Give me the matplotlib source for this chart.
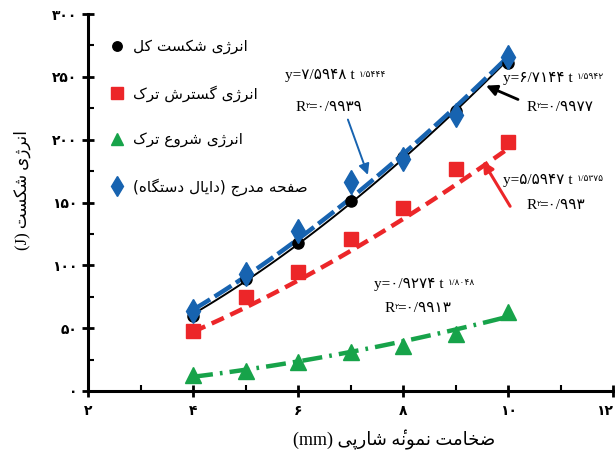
#!/usr/bin/env python3

import numpy as np
import matplotlib
matplotlib.use("Agg")
import matplotlib.pyplot as plt
from matplotlib.lines import Line2D
from matplotlib.ticker import MultipleLocator, FuncFormatter

# Charpy test results: absorbed energy (J) vs specimen thickness (mm)
thickness = [4, 5, 6, 7, 8, 9, 10]
total_energy = [59.5, 89, 118, 151, 186, 223, 261]
propagation_energy = [47.6, 75, 95, 120.6, 146, 177, 198]
initiation_energy = [13, 16, 23, 31, 36, 45, 63]
dial_energy = [63.5, 93, 127, 166, 185, 220, 266]

series_names = [
    "انرژی شکست کل",
    "انرژی گسترش ترک",
    "انرژی شروع ترک",
    "صفحه مدرج (دایال دستگاه)",
]

# power-law trend lines y = a * t^b
fit_coef = [6.7144, 5.5947, 0.9274, 7.5948]
fit_exp = [1.5942, 1.5375, 1.8048, 1.5444]
fit_r2 = [0.9977, 0.993, 0.9913, 0.9939]

x_ticks = [2, 4, 6, 8, 10, 12]
y_ticks = [0, 50, 100, 150, 200, 250, 300]

COLORS = ["black", "#ec2629", "#17a34a", "#1763b0"]
MARKERS = ["o", "s", "^", "d"]
MARKER_SIZES = [8, 10, 11, 12]
LINE_STYLES = ["-", (0, (3.0, 1.6)), (0, (4.5, 1.6, 0.6, 1.6)), (0, (4.5, 1.2))]
LINE_WIDTHS = [1.4, 3.2, 3.2, 3.2]

# text positions in data coords: equation line, R^2 line
EQ_POS = [(9.9, 246), (9.9, 165), (7.45, 82), (5.75, 248)]
R2_POS = [(10.35, 223), (10.35, 145), (7.65, 63), (5.95, 223)]
ARROWS = [
    ((10.19, 232), (9.58, 243)),
    ((10.04, 147), (9.52, 183)),
    None,
    ((6.95, 216), (7.33, 172)),
]
ARROW_WIDTHS = [2.0, 2.2, 0, 1.4]

FA_FAMILY = ["DejaVu Sans"]
NUM_FAMILY = ["Liberation Serif", "DejaVu Sans"]

_FORMS = {
    "ا": ("\uFE8D", "\uFE8E"),
    "د": ("\uFEA9", "\uFEAA"),
    "ر": ("\uFEAD", "\uFEAE"),
    "ژ": ("\uFB8A", "\uFB8B"),
    "و": ("\uFEED", "\uFEEE"),
    "ۀ": ("\uFEE9\u0654", "\uFEEA\u0654"),
    "ت": ("\uFE95", "\uFE96", "\uFE97", "\uFE98"),
    "پ": ("\uFB56", "\uFB57", "\uFB58", "\uFB59"),
    "ج": ("\uFE9D", "\uFE9E", "\uFE9F", "\uFEA0"),
    "ح": ("\uFEA1", "\uFEA2", "\uFEA3", "\uFEA4"),
    "خ": ("\uFEA5", "\uFEA6", "\uFEA7", "\uFEA8"),
    "س": ("\uFEB1", "\uFEB2", "\uFEB3", "\uFEB4"),
    "ش": ("\uFEB5", "\uFEB6", "\uFEB7", "\uFEB8"),
    "ص": ("\uFEB9", "\uFEBA", "\uFEBB", "\uFEBC"),
    "ض": ("\uFEBD", "\uFEBE", "\uFEBF", "\uFEC0"),
    "ع": ("\uFEC9", "\uFECA", "\uFECB", "\uFECC"),
    "ف": ("\uFED1", "\uFED2", "\uFED3", "\uFED4"),
    "ک": ("\uFB8E", "\uFB8F", "\uFB90", "\uFB91"),
    "گ": ("\uFB92", "\uFB93", "\uFB94", "\uFB95"),
    "ل": ("\uFEDD", "\uFEDE", "\uFEDF", "\uFEE0"),
    "م": ("\uFEE1", "\uFEE2", "\uFEE3", "\uFEE4"),
    "ن": ("\uFEE5", "\uFEE6", "\uFEE7", "\uFEE8"),
    "ه": ("\uFEE9", "\uFEEA", "\uFEEB", "\uFEEC"),
    "ی": ("\uFBFC", "\uFBFD", "\uFBFE", "\uFBFF"),
}


def _fa(text):
    # matplotlib does no Arabic shaping, so pick presentation forms by hand
    # and lay the string out right-to-left
    out = []
    for i, ch in enumerate(text):
        forms = _FORMS.get(ch)
        if forms is None:
            out.append(ch)
            continue
        prev = text[i - 1] if i > 0 else ""
        nxt = text[i + 1] if i + 1 < len(text) else ""
        joins_prev = prev in _FORMS and len(_FORMS[prev]) == 4
        joins_next = len(forms) == 4 and nxt in _FORMS
        if joins_prev and joins_next:
            out.append(forms[3])
        elif joins_prev:
            out.append(forms[1])
        elif joins_next:
            out.append(forms[2])
        else:
            out.append(forms[0])
    return "".join(reversed(out)).translate(str.maketrans("()", ")("))


def _fa_num(value):
    s = str(value)
    return s.translate(str.maketrans("0123456789.", "۰۱۲۳۴۵۶۷۸۹/"))


def _equation(ax, pos, r2_pos, a, b, r2, fontsize=11):
    base = ax.text(pos[0], pos[1], "y=" + _fa_num(a) + " t",
                   family=NUM_FAMILY, fontsize=fontsize, va="baseline")
    ax.annotate(_fa_num(b), xy=(1, 1), xycoords=base, xytext=(3, -1),
                textcoords="offset points", family=NUM_FAMILY,
                fontsize=fontsize * 0.6, va="top", ha="left")
    r = ax.text(r2_pos[0], r2_pos[1], "R",
                family=NUM_FAMILY, fontsize=fontsize, va="baseline")
    ax.annotate("۲", xy=(1, 1), xycoords=r, xytext=(0, -1),
                textcoords="offset points", family=NUM_FAMILY,
                fontsize=fontsize * 0.5, va="top", ha="left")
    ax.annotate("=" + _fa_num(r2), xy=(1, 0), xycoords=r, xytext=(2, 0),
                textcoords="offset points", family=NUM_FAMILY,
                fontsize=fontsize, va="bottom", ha="left")


def _main():
    fig = plt.figure(figsize=(6.15, 4.58), dpi=100)
    ax = fig.add_axes([0.1431, 0.1463, 0.8537, 0.8231])

    series = [total_energy, propagation_energy, initiation_energy, dial_energy]
    t = np.linspace(thickness[0], thickness[-1], 120)

    handles = []
    for i, values in enumerate(series):
        ax.plot(t, fit_coef[i] * t ** fit_exp[i], color=COLORS[i],
                linestyle=LINE_STYLES[i], linewidth=LINE_WIDTHS[i], zorder=3)
        ax.plot(thickness, values, linestyle="none", marker=MARKERS[i],
                markersize=MARKER_SIZES[i], color=COLORS[i], zorder=4)
        handles.append(Line2D([], [], linestyle="none", marker=MARKERS[i],
                              markersize=MARKER_SIZES[i] * 0.85, color=COLORS[i]))
        _equation(ax, EQ_POS[i], R2_POS[i], fit_coef[i], fit_exp[i], fit_r2[i])
        if ARROWS[i] is not None:
            tail, head = ARROWS[i]
            ax.annotate("", xy=head, xytext=tail,
                        arrowprops=dict(arrowstyle="-|>", color=COLORS[i],
                                        lw=ARROW_WIDTHS[i], mutation_scale=16,
                                        shrinkA=0, shrinkB=0))

    ax.legend(handles, [_fa(n) for n in series_names], loc="upper left",
              bbox_to_anchor=(0.015, 0.97), frameon=False, handlelength=1.0,
              handletextpad=0.5, labelspacing=2.0,
              prop={"family": FA_FAMILY, "size": 11})

    ax.set_xlim(2, 12)
    ax.set_ylim(0, 300)
    ax.set_xticks(x_ticks)
    ax.set_yticks(y_ticks)
    ax.xaxis.set_minor_locator(MultipleLocator(1))
    ax.yaxis.set_minor_locator(MultipleLocator(25))
    fmt = FuncFormatter(lambda v, _: _fa_num(int(round(v))))
    ax.xaxis.set_major_formatter(fmt)
    ax.yaxis.set_major_formatter(fmt)

    for side in ["top", "right"]:
        ax.spines[side].set_visible(False)
    for side in ["left", "bottom"]:
        ax.spines[side].set_linewidth(2.2)

    ax.tick_params(which="major", direction="inout", length=9, width=2,
                   labelsize=10)
    ax.tick_params(which="minor", direction="in", length=4, width=1.5)
    ax.tick_params(axis="x", which="major", pad=5)
    ax.tick_params(axis="y", which="major", pad=3)
    xlabels = ax.get_xticklabels()
    for label in xlabels + ax.get_yticklabels():
        label.set_family(FA_FAMILY)
        label.set_fontweight("bold")
    # last label sits on the figure edge, keep it inside
    xlabels[-1].set_horizontalalignment("right")

    fig.text(22 / 615, 1 - 190 / 458, "(J) " + _fa("انرژی شکست"),
             rotation=90, ha="center", va="center",
             family=NUM_FAMILY, fontsize=12)
    fig.text(394 / 615, 1 - 440 / 458, "(mm) " + _fa("ضخامت نمونۀ شارپی"),
             ha="center", va="center", family=NUM_FAMILY, fontsize=13)

    fig.savefig("out.png", dpi=100)


if __name__ == "__main__":
    _main()
